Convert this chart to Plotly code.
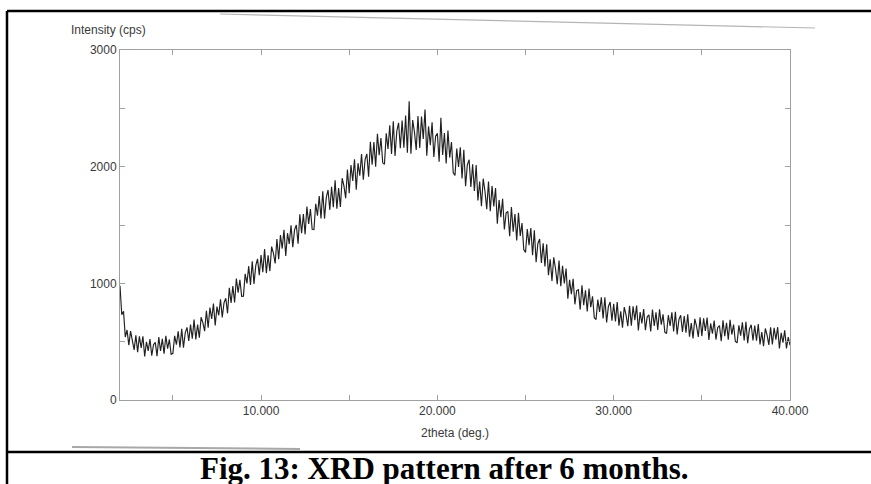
import plotly.graph_objects as go

# Diffractometer scan: 2theta from 2.0 to 40.0 deg in 0.1 deg steps, counts per second
two_theta_start = 2.0
two_theta_step = 0.1
intensity = [
    980, 730, 760, 540, 600, 470, 590, 520, 430, 555,
    410, 545, 447, 546, 373, 498, 421, 523, 379, 474,
    494, 376, 539, 420, 524, 397, 551, 441, 519, 392,
    400, 550, 475, 589, 451, 610, 449, 576, 622, 506,
    646, 525, 689, 520, 647, 535, 709, 664, 590, 764,
    620, 792, 694, 826, 638, 800, 726, 862, 708, 834,
    872, 743, 961, 831, 976, 836, 1041, 920, 1031, 889,
    890, 1082, 999, 1147, 987, 1190, 995, 1152, 1210, 1070,
    1242, 1095, 1293, 1088, 1241, 1105, 1315, 1260, 1170, 1380,
    1206, 1414, 1298, 1458, 1234, 1430, 1338, 1498, 1310, 1458,
    1500, 1339, 1591, 1429, 1594, 1420, 1659, 1510, 1637, 1463,
    1460, 1682, 1579, 1749, 1555, 1790, 1555, 1736, 1800, 1630,
    1828, 1653, 1883, 1640, 1817, 1655, 1901, 1836, 1730, 1976,
    1772, 2014, 1878, 2064, 1802, 2030, 1922, 2108, 1888, 2060,
    2110, 1914, 2213, 2017, 2211, 2000, 2282, 2099, 2246, 2033,
    2020, 2286, 2152, 2354, 2108, 2390, 2092, 2306, 2376, 2158,
    2396, 2162, 2438, 2119, 2560, 2110, 2399, 2297, 2144, 2433,
    2161, 2429, 2238, 2490, 2094, 2345, 2184, 2380, 2083, 2262,
    2286, 2043, 2420, 2101, 2288, 2028, 2309, 2078, 2211, 1947,
    1925, 2155, 1997, 2166, 1899, 2145, 1832, 2016, 2060, 1825,
    2020, 1792, 2014, 1711, 1873, 1660, 1897, 1789, 1636, 1873,
    1618, 1835, 1659, 1817, 1511, 1713, 1566, 1724, 1461, 1605,
    1616, 1404, 1654, 1442, 1594, 1368, 1604, 1406, 1516, 1290,
    1265, 1465, 1327, 1474, 1241, 1455, 1182, 1342, 1380, 1175,
    1344, 1144, 1334, 1069, 1207, 1020, 1223, 1127, 992, 1195,
    976, 1150, 1000, 1126, 868, 1030, 908, 1038, 820, 938,
    946, 775, 984, 812, 941, 758, 955, 795, 889, 706,
    690, 860, 755, 881, 699, 880, 665, 802, 840, 680,
    824, 674, 839, 636, 760, 620, 796, 730, 632, 808,
    636, 803, 685, 809, 597, 753, 656, 780, 599, 713,
    730, 588, 776, 634, 752, 600, 778, 646, 734, 582,
    570, 727, 634, 751, 588, 755, 562, 689, 726, 583,
    720, 578, 735, 543, 660, 528, 695, 633, 540, 708,
    548, 700, 593, 706, 515, 656, 569, 681, 518, 621,
    638, 504, 683, 548, 662, 517, 687, 561, 646, 501,
    490, 640, 552, 665, 510, 670, 487, 609, 645, 510,
    637, 508, 650, 476, 582, 462, 613, 556, 473, 623,
    477, 619, 518, 624, 442, 575, 492, 598, 443, 540,
    470,
]
two_theta = [round(two_theta_start + i * two_theta_step, 1) for i in range(len(intensity))]

x_tick_vals = [5, 10, 15, 20, 25, 30, 35, 40]
x_tick_text = ["", "10.000", "", "20.000", "", "30.000", "", "40.000"]
y_tick_vals = [0, 500, 1000, 1500, 2000, 2500, 3000]
y_tick_text = ["0", "", "1000", "", "2000", "", "3000"]

W, H = 871, 484
L, R, T, B = 120, 81, 50, 84


def px(x):
    return (x - L) / (W - L - R)


def py(y):
    return (H - B - y) / (H - T - B)


axis_font = dict(family="Liberation Sans Narrow, Arial Narrow, Liberation Sans, Arial", size=12, color="#3a3a3a")

fig = go.Figure()
fig.add_trace(go.Scatter(
    x=two_theta, y=intensity, mode="lines",
    line=dict(color="#202020", width=1.15),
    showlegend=False, hoverinfo="skip",
))

fig.update_xaxes(
    range=[2, 40], tickvals=x_tick_vals, ticktext=x_tick_text,
    showline=True, linecolor="#a0a0a0", linewidth=1, mirror="ticks",
    ticks="inside", ticklen=5, tickcolor="#a0a0a0",
    showgrid=False, zeroline=False, tickfont=axis_font,
)
fig.update_yaxes(
    range=[0, 3000], tickvals=y_tick_vals, ticktext=y_tick_text,
    showline=True, linecolor="#a0a0a0", linewidth=1, mirror="ticks",
    ticks="inside", ticklen=5, tickcolor="#a0a0a0",
    showgrid=False, zeroline=False, tickfont=axis_font, ticklabelstandoff=0,
)

black = dict(color="black", width=2.5)
shapes = [
    # table cell borders
    dict(type="line", xref="paper", yref="paper", x0=px(7), x1=px(W + 5), y0=py(11), y1=py(11), line=black),
    dict(type="line", xref="paper", yref="paper", x0=px(7), x1=px(7), y0=py(11), y1=py(H + 5), line=black),
    dict(type="line", xref="paper", yref="paper", x0=px(7), x1=px(W + 5), y0=py(452), y1=py(452), line=black),
    # faint page edges of the scanned printout
    dict(type="line", xref="paper", yref="paper", x0=px(220), x1=px(815), y0=py(14), y1=py(28),
         line=dict(color="#b4b4b4", width=1.2)),
    dict(type="line", xref="paper", yref="paper", x0=px(72), x1=px(300), y0=py(447), y1=py(449),
         line=dict(color="#a8a8a8", width=2)),
]

annotations = [
    dict(text="Intensity (cps)", xref="paper", yref="paper", x=px(108), y=py(30),
         showarrow=False, xanchor="center", yanchor="middle", font=axis_font),
    dict(text="2theta (deg.)", xref="paper", yref="paper", x=px(455), y=py(433),
         showarrow=False, xanchor="center", yanchor="middle", font=axis_font),
    dict(text="<b>Fig. 13: XRD pattern after 6 months.</b>", xref="paper", yref="paper",
         x=px(444), y=py(468), showarrow=False, xanchor="center", yanchor="middle",
         font=dict(family="Liberation Serif, Times New Roman, serif", size=31, color="black")),
]

fig.update_layout(
    width=W, height=H,
    margin=dict(l=L, r=R, t=T, b=B),
    paper_bgcolor="white", plot_bgcolor="white",
    shapes=shapes, annotations=annotations,
)

fig.write_html("out.html")
